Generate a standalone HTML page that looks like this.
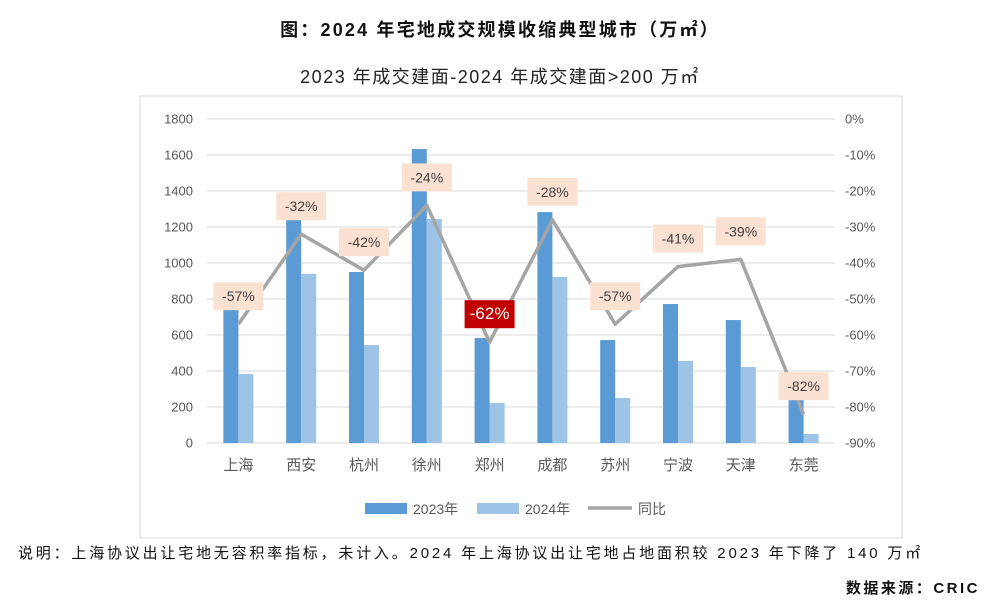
<!DOCTYPE html>
<html><head><meta charset="utf-8"><style>
body{margin:0;width:1000px;height:615px;background:#fff;font-family:"Liberation Sans","Noto Sans CJK SC",sans-serif;overflow:hidden;position:relative}
.t{position:absolute;white-space:nowrap}
</style></head><body>
<div class="t" style="left:0;width:1000px;text-align:center;top:16px;font-size:18px;letter-spacing:2.2px;font-weight:bold;color:#111">图：2024 年宅地成交规模收缩典型城市（万㎡）</div>
<div class="t" style="left:0;width:1000px;text-align:center;top:63px;font-size:18px;letter-spacing:1.5px;color:#222">2023 年成交建面-2024 年成交建面&gt;200 万㎡</div>
<svg id="c" width="1000" height="615" style="position:absolute;left:0;top:0" font-family="Liberation Sans, Noto Sans CJK SC, sans-serif"></svg>
<div class="t" style="left:18px;top:542px;font-size:15px;letter-spacing:2.8px;color:#111">说明：上海协议出让宅地无容积率指标，未计入。2024 年上海协议出让宅地占地面积较 2023 年下降了 140 万㎡</div>
<div class="t" style="right:20px;top:577px;font-size:15px;letter-spacing:2.5px;font-weight:bold;color:#111">数据来源：CRIC</div>
<script>
const categories=["上海","西安","杭州","徐州","郑州","成都","苏州","宁波","天津","东莞"];
const v2023=[740,1260,950,1633,583,1283,572,772,683,285];
const v2024=[383,940,544,1244,222,922,250,456,422,50];
const yoy=[-57,-32,-42,-24,-62,-28,-57,-41,-39,-82];
const leftTicks=[0,200,400,600,800,1000,1200,1400,1600,1800];
const rightTicks=[0,-10,-20,-30,-40,-50,-60,-70,-80,-90];
const NS="http://www.w3.org/2000/svg";
const svg=document.getElementById('c');
function mk(t,a,txt){const e=document.createElementNS(NS,t);for(const k in a)e.setAttribute(k,a[k]);if(txt!=null)e.textContent=txt;svg.appendChild(e);return e;}
const X0=207,X1=835,Y0=443,Y1=119;
const step=(X1-X0)/categories.length;
const cx=i=>X0+step*(i+0.5);
const yL=v=>Y0-(v/1800)*(Y0-Y1);
const yR=p=>Y1+(-p/90)*(Y0-Y1);
let e=mk('rect',{x:140,y:96,width:762,height:442,fill:'none',stroke:'#d9d9d9'});

leftTicks.forEach((t,i)=>{
 let g=mk('line',{x1:X0,x2:X1,y1:yL(t),y2:yL(t),stroke:'#d9d9d9','stroke-width':1});
 
 let l=mk('text',{x:193,y:yL(t)+4.5,'text-anchor':'end','font-size':13,fill:'#595959'},t);
 
});
rightTicks.forEach(p=>{
 let l=mk('text',{x:845,y:yR(p)+4.5,'font-size':13,fill:'#595959'},p+'%');
 
});
const bw=15;
categories.forEach((c,i)=>{
 let b=mk('rect',{x:cx(i)-bw,y:yL(v2023[i]),width:bw,height:Y0-yL(v2023[i]),fill:'#5b9bd5'});
 
 let b2=mk('rect',{x:cx(i),y:yL(v2024[i]),width:bw,height:Y0-yL(v2024[i]),fill:'#9dc3e6'});
 
 let l=mk('text',{x:cx(i),y:470,'text-anchor':'middle','font-size':15,fill:'#595959'},c);
 
});
let pl=mk('polyline',{points:yoy.map((p,i)=>cx(i)+','+yR(p)).join(' '),fill:'none',stroke:'#a5a5a5','stroke-width':3.5,'stroke-linejoin':'round'});

yoy.forEach((p,i)=>{
 const red=(i===4);const ly=yR(p)-28;
 let r=mk('rect',{x:cx(i)-25,y:ly-14,width:50,height:28,fill:red?'#c00000':'#fbe1d1'});
 
 let t=mk('text',{x:cx(i),y:ly+5,'text-anchor':'middle','font-size':red?17:14,fill:red?'#fff':'#404040'},p+'%');
 
});
let s1=mk('rect',{x:365,y:503,width:42,height:11,fill:'#5b9bd5'});
let t1=mk('text',{x:413,y:514,'font-size':14,fill:'#595959'},'2023年');
let s2=mk('rect',{x:477,y:503,width:42,height:11,fill:'#9dc3e6'});
let t2=mk('text',{x:525,y:514,'font-size':14,fill:'#595959'},'2024年');
let s3=mk('line',{x1:588,x2:632,y1:508,y2:508,stroke:'#a5a5a5','stroke-width':3.5});
let t3=mk('text',{x:638,y:514,'font-size':14,fill:'#595959'},'同比');
</script>
</body></html>
